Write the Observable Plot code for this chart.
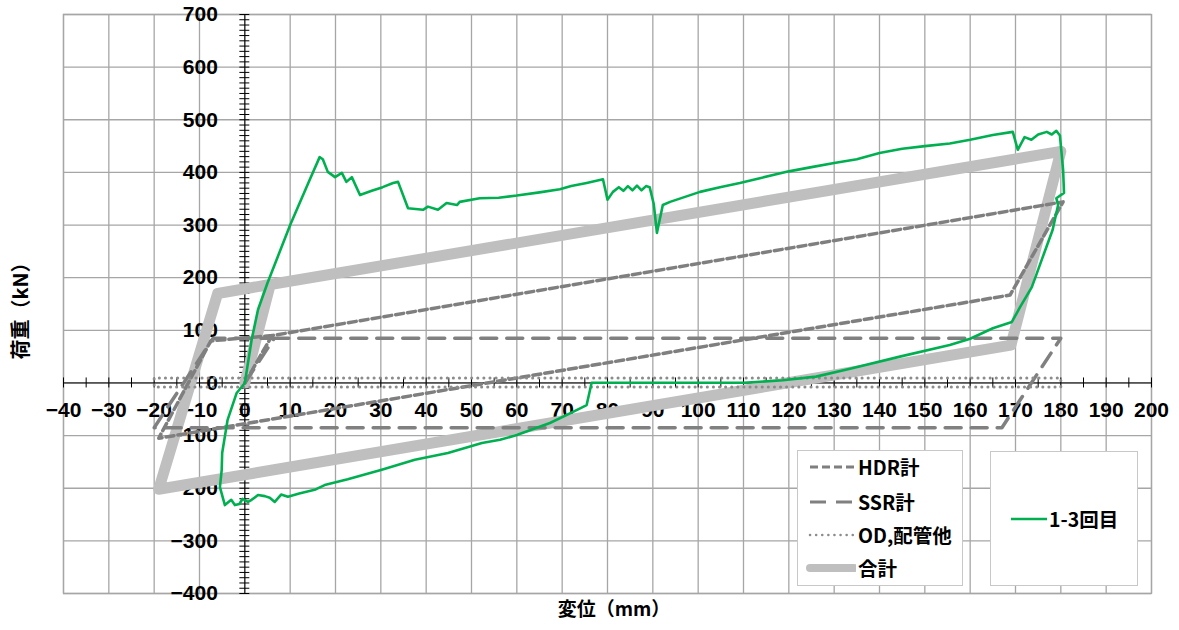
<!DOCTYPE html>
<html><head><meta charset="utf-8">
<script src="https://cdn.jsdelivr.net/npm/d3@7"></script>
<script src="https://cdn.jsdelivr.net/npm/@observablehq/plot@0.6"></script>
<style>
html,body{margin:0;padding:0;background:#fff;}
#wrap{position:relative;width:1179px;height:630px;font-family:"Noto Sans CJK JP","Noto Sans",sans-serif;}
.lg{position:absolute;background:#fff;border:1.5px solid #c8c8c8;box-sizing:border-box;}
.it{position:absolute;font-size:19.5px;font-weight:bold;color:#000;line-height:1;white-space:nowrap;}
.sw{position:absolute;}
.ttl{position:absolute;font-size:19px;font-weight:bold;color:#000;white-space:nowrap;line-height:1;}
</style></head>
<body><div id="wrap"></div>
<script>
// ---- tick values / labels ----
const xTicks = [-40,-30,-20,-10,0,10,20,30,40,50,60,70,80,90,100,110,120,130,140,150,160,170,180,190,200];
const yTicks = [-400,-300,-200,-100,0,100,200,300,400,500,600,700];
const xTitle = "変位（mm）";
const yTitle = "荷重（kN）";
const seriesNames = ["HDR計","SSR計","OD,配管他","合計","1-3回目"];

// ---- 合計 (total) ----
const totalX = [0, 5.6, 180, 169, -19, -6, 5.6];
const totalY = [0, 187, 440, 72, -202, 170, 187];

// ---- HDR計 ----
const hdrX = [0, 6, 180.5, 168.8, -19, -7.5, 6];
const hdrY = [0, 90, 344, 167, -105, 80, 90];

// ---- SSR計 ----
const ssrX = [0, 6.5, 180, 167, -20, -7, 6.5];
const ssrY = [0, 85, 85, -85, -85, 85, 85];

// ---- OD,配管他 ----
const odX = [0, 0, 180, 180, -20, -20, 0];
const odY = [0, 9.5, 9.5, -7.5, -7.5, 9.5, 9.5];

// ---- 1-3回目 (measured) ----
const testX = [0,1.5,2.9,5,10,14,16.5,17.2,18.3,19.9,21.4,22.4,23.6,25.4,28,30.4,32.7,33.8,36,39.3,40.4,42.6,44.5,46.8,47.4,51.8,56,60,65,69.5,72,75.4,79,80,81.2,82.5,83.5,84.5,85.5,86.5,87.5,88.5,89.3,90.2,90.9,92.2,93.8,100.4,104.8,109.2,113.6,120,125,130,135,140,145,150,155.5,160,165,169.4,170.5,172,173.5,175,176.9,178,179,179.8,180.5,180.7,179,179.4,178.2,176,173.6,171,169.2,165,160,155.5,144.5,133.5,126,118.7,110,76.5,75.4,72.4,67.3,60,56.3,52.3,44.8,37.5,30.2,22.7,17.6,15.4,12,9.5,8,6.6,5.5,4.4,2.9,1.5,0.7,-0.5,-1.2,-2.2,-3,-4.4,-5.5,-5.1,-5,-3.8,-1.8,0];
const testY = [0,82,139,190,300,380,429,425,401,391,399,382,391,357,365,372,380,382,332,329,335,329,342,338,344,351,352,356,362,368,374,380,387,348,363,372,365,374,366,375,366,374,372,340,285,338,344,363,372,380,389,402,410,418,425,437,445,450,455,462,471,477,443,467,462,472,477,472,479,470,405,361,351,338,291,239,182,144,116,104,84,72,50,27,12,5,0.5,0.5,-42,-55,-76,-99,-108,-114,-133,-146,-165,-183,-194,-203,-210,-216,-212,-226,-218,-215,-213,-222,-226,-220,-230,-232,-222,-232,-198,-165,-133,-70,-19,0];

const toRows = (xs, ys) => xs.map((x, i) => ({x, y: ys[i]}));
const total = toRows(totalX, totalY);
const hdr = toRows(hdrX, hdrY);
const ssr = toRows(ssrX, ssrY);
const od = toRows(odX, odY);
const test = toRows(testX, testY);

const xMinor = d3.range(-40, 200.1, 5);
const yMinor = d3.range(-400, 700.1, 10);
const fmt = d => d < 0 ? "\u2212" + (-d) : String(d);
const gridC = "#a6a6a6";
const numFont = "Liberation Sans, Arial, sans-serif";

const chart = Plot.plot({
  width: 1179, height: 630,
  marginTop: 14, marginLeft: 63, marginRight: 28, marginBottom: 37,
  x: {domain: [-40, 200], axis: null},
  y: {domain: [-400, 700], axis: null},
  style: {background: "transparent"},
  marks: [
    Plot.ruleX(xTicks, {stroke: gridC, strokeWidth: 1.3}),
    Plot.ruleY(yTicks, {stroke: gridC, strokeWidth: 1.3}),
    Plot.frame({stroke: gridC, strokeWidth: 1.3}),
    Plot.ruleX([0], {stroke: "#000", strokeWidth: 1}),
    Plot.ruleY([0], {stroke: "#000", strokeWidth: 1}),
    Plot.ruleX(xMinor, {x: d => d, y1: -9.5, y2: 9.5, stroke: "#000", strokeWidth: 1}),
    Plot.ruleY(yMinor, {y: d => d, x1: -1.1, x2: 1.1, stroke: "#000", strokeWidth: 1}),
    Plot.text(yTicks, {x: 0, y: d => d, text: fmt, textAnchor: "end", dx: -27, fontSize: 21, fontWeight: "bold", fontFamily: numFont, fill: "#000"}),
    Plot.text(xTicks, {x: d => d, y: 0, text: fmt, textAnchor: "middle", dy: 27, fontSize: 21, fontWeight: "bold", fontFamily: numFont, fill: "#000"}),
    Plot.line(total, {x: "x", y: "y", stroke: "#bfbfbf", strokeWidth: 11, strokeLinejoin: "round", strokeLinecap: "round"}),
    Plot.line(hdr, {x: "x", y: "y", stroke: "#7f7f7f", strokeWidth: 3.5, strokeDasharray: "8,4"}),
    Plot.line(ssr, {x: "x", y: "y", stroke: "#808080", strokeWidth: 3.5, strokeDasharray: "16,10"}),
    Plot.line(od, {x: "x", y: "y", stroke: "#8c8c8c", strokeWidth: 3, strokeDasharray: "0.1,6", strokeLinecap: "round"}),
    Plot.line(test, {x: "x", y: "y", stroke: "#00b050", strokeWidth: 2.6, strokeLinejoin: "round"})
  ]
});
const wrap = document.getElementById("wrap");
chart.style.position = "absolute"; chart.style.left = "0"; chart.style.top = "0";
wrap.appendChild(chart);

function add(html) { wrap.insertAdjacentHTML("beforeend", html); }
// axis titles
add(`<div class="ttl" style="left:614px;top:607px;transform:translate(-50%,-50%);">${xTitle}</div>`);
add(`<div class="ttl" style="left:20px;top:306px;transform:translate(-50%,-50%) rotate(-90deg);font-size:20px;">${yTitle}</div>`);

// legend 1
add(`<div class="lg" style="left:797px;top:450px;width:166px;height:136px;"></div>`);
const rows = [
  {y: 467, name: seriesNames[0], st: 'stroke="#7f7f7f" stroke-width="3" stroke-dasharray="8,4"'},
  {y: 502, name: seriesNames[1], st: 'stroke="#808080" stroke-width="3" stroke-dasharray="16,10"'},
  {y: 535, name: seriesNames[2], st: 'stroke="#8c8c8c" stroke-width="2.5" stroke-dasharray="0.1,6" stroke-linecap="round"'},
  {y: 568, name: seriesNames[3], st: 'stroke="#bfbfbf" stroke-width="8" stroke-linecap="round"'}
];
for (const r of rows) {
  add(`<svg class="sw" style="left:806px;top:${r.y-6}px" width="50" height="12"><line x1="4" x2="48" y1="6" y2="6" ${r.st}/></svg>`);
  add(`<div class="it" style="left:858px;top:${r.y}px;transform:translateY(-50%);">${r.name}</div>`);
}
// legend 2
add(`<div class="lg" style="left:990px;top:451px;width:148px;height:135px;"></div>`);
add(`<svg class="sw" style="left:1010px;top:513px" width="40" height="12"><line x1="1" x2="37" y1="6" y2="6" stroke="#00b050" stroke-width="2.6"/></svg>`);
add(`<div class="it" style="left:1049px;top:519px;transform:translateY(-50%);">${seriesNames[4]}</div>`);
</script></body></html>
